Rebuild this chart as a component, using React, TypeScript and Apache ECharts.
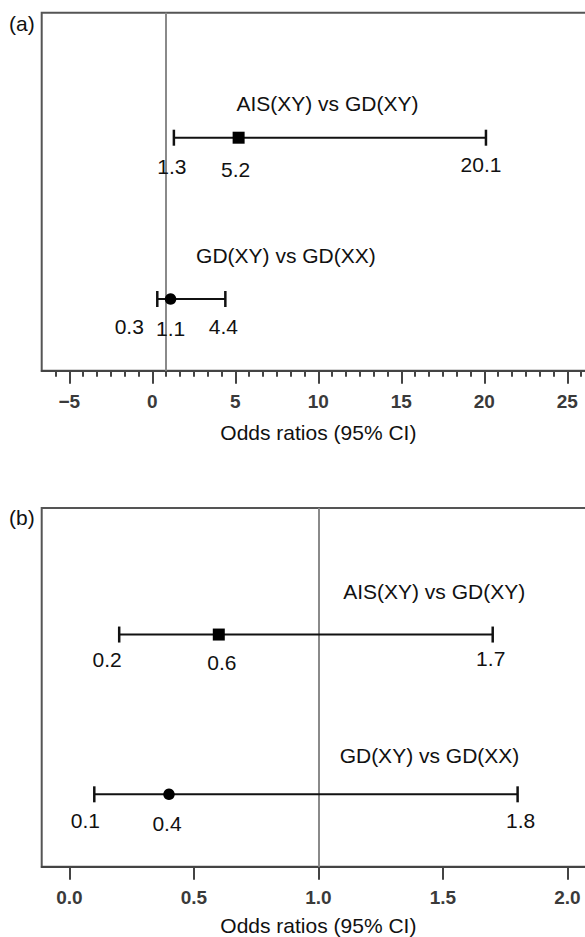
import React, { useEffect, useRef } from "react";
import * as echarts from "echarts";

// ---------- data ----------
const comparisons = ["AIS(XY) vs GD(XY)", "GD(XY) vs GD(XX)"];
const rowIndex = [1, 0]; // upper row, lower row
const markerSymbols = ["rect", "circle"];

// Panel (a)
const aOdds = [5.2, 1.1];
const aLow = [1.3, 0.3];
const aHigh = [20.1, 4.4];
const aTicks = [-5, 0, 5, 10, 15, 20, 25];
const aRefLine = 0.8;

// Panel (b)
const bOdds = [0.6, 0.4];
const bLow = [0.2, 0.1];
const bHigh = [1.7, 1.8];
const bTicks = [0, 0.5, 1.0, 1.5, 2.0];
const bRefLine = 1.0;

const axisTitle = "Odds ratios (95% CI)";

// ---------- layout / style ----------
const FONT = '"Liberation Sans", Arial, Helvetica, sans-serif';
const INK = "#111";

type PanelLayout = {
  tag: string;
  tagY: number;
  grid: { left: number; top: number; width: number; height: number };
  xMin: number;
  xMax: number;
  yMin: number;
  yMax: number;
  minorStep: number | null;
  nameGap: number;
  format: (v: number) => string;
  titleX: number[];
  titleDy: number[];
  lowOff: number[][];
  orOff: number[][];
  highOff: number[][];
};

const panelA: PanelLayout = {
  tag: "(a)",
  tagY: 23.3,
  grid: { left: 41.7, top: 12.7, width: 553.3, height: 358 },
  xMin: -6.663,
  xMax: 26.669,
  yMin: -0.4445,
  yMax: 1.775,
  minorStep: 5 / 6,
  nameGap: 51,
  format: (v) => (v < 0 ? "\u2212" + Math.abs(v) : String(v)),
  titleX: [10.55, 8.05],
  titleDy: [-34.4, -44],
  lowOff: [[-2, 29], [-28, 27]],
  orOff: [[-3, 32], [0, 29]],
  highOff: [[-5, 27], [-2, 27]],
};

const panelB: PanelLayout = {
  tag: "(b)",
  tagY: 517.5,
  grid: { left: 41.7, top: 508, width: 553.3, height: 358.7 },
  xMin: -0.1112,
  xMax: 2.1108,
  yMin: -0.453,
  yMax: 1.792,
  minorStep: null,
  nameGap: 48,
  format: (v) => v.toFixed(1),
  titleX: [1.465, 1.446],
  titleDy: [-42.7, -39.3],
  lowOff: [[-12, 25], [-9, 26]],
  orOff: [[3, 28], [-2, 29]],
  highOff: [[-2, 24], [3, 26]],
};

function buildPanel(
  idx: number,
  L: PanelLayout,
  odds: number[],
  low: number[],
  high: number[],
  ticks: number[],
  ref: number
) {
  const minorValues: number[] = [];
  if (L.minorStep) {
    const kStart = Math.ceil(L.xMin / L.minorStep + 1e-6);
    const kEnd = Math.floor(L.xMax / L.minorStep - 1e-6);
    for (let k = kStart; k <= kEnd; k++) minorValues.push(+(k * L.minorStep).toFixed(4));
  }

  const xAxes: any[] = [
    {
      type: "value",
      gridIndex: idx,
      position: "bottom",
      min: L.xMin,
      max: L.xMax,
      axisLine: { show: true, onZero: false, lineStyle: { color: "#444", width: 2 } },
      axisTick: {
        show: true,
        customValues: ticks,
        length: 13,
        lineStyle: { color: "#444", width: 2 },
      },
      axisLabel: {
        show: true,
        customValues: ticks,
        formatter: (v: number) => L.format(v),
        margin: 21,
        fontSize: 19,
        fontWeight: "bold",
        color: "#3a3a3a",
        fontFamily: FONT,
      },
      splitLine: { show: false },
      name: axisTitle,
      nameLocation: "middle",
      nameGap: L.nameGap,
      nameTextStyle: { fontSize: 21, color: INK, fontFamily: FONT },
    },
  ];
  if (minorValues.length) {
    xAxes.push({
      type: "value",
      gridIndex: idx,
      position: "bottom",
      min: L.xMin,
      max: L.xMax,
      axisLine: { show: false, onZero: false },
      axisTick: {
        show: true,
        customValues: minorValues,
        length: 6,
        lineStyle: { color: "#444", width: 2 },
      },
      axisLabel: { show: false },
      splitLine: { show: false },
    });
  }

  const yAxis = {
    type: "value",
    gridIndex: idx,
    min: L.yMin,
    max: L.yMax,
    show: false,
  };

  const xAxisIndexBase = idx === 0 ? 0 : 2;

  const barData = odds.map((o, i) => [low[i], high[i], rowIndex[i], o, i]);

  const textStyle = (t: string) => ({
    text: t,
    font: `21px ${FONT}`,
    fill: INK,
    align: "center",
    verticalAlign: "middle",
  });

  const renderItem = (_params: any, api: any) => {
    const lo = api.value(0);
    const hi = api.value(1);
    const y = api.value(2);
    const or = api.value(3);
    const i = api.value(4);
    const pL = api.coord([lo, y]);
    const pH = api.coord([hi, y]);
    const pO = api.coord([or, y]);
    const pT = api.coord([L.titleX[i], y]);
    const cap = 8;
    const lineStyle = { stroke: INK, lineWidth: 2 };
    const capStyle = { stroke: INK, lineWidth: 2.5 };
    const label = (v: number, p: number[], off: number[]) => ({
      type: "text",
      x: p[0] + off[0],
      y: p[1] + off[1],
      style: textStyle(v.toFixed(1)),
    });
    return {
      type: "group",
      children: [
        { type: "line", shape: { x1: pL[0], y1: pL[1], x2: pH[0], y2: pH[1] }, style: lineStyle },
        { type: "line", shape: { x1: pL[0], y1: pL[1] - cap, x2: pL[0], y2: pL[1] + cap }, style: capStyle },
        { type: "line", shape: { x1: pH[0], y1: pH[1] - cap, x2: pH[0], y2: pH[1] + cap }, style: capStyle },
        label(lo, pL, L.lowOff[i]),
        label(or, pO, L.orOff[i]),
        label(hi, pH, L.highOff[i]),
        {
          type: "text",
          x: pT[0],
          y: pT[1] + L.titleDy[i],
          style: textStyle(comparisons[i]),
        },
      ],
    };
  };

  const series = [
    {
      type: "custom",
      xAxisIndex: xAxisIndexBase,
      yAxisIndex: idx,
      renderItem,
      data: barData,
      silent: true,
      clip: false,
      z: 3,
    },
    {
      type: "scatter",
      xAxisIndex: xAxisIndexBase,
      yAxisIndex: idx,
      data: odds.map((o, i) => ({
        value: [o, rowIndex[i]],
        symbol: markerSymbols[i],
        symbolSize: markerSymbols[i] === "rect" ? 12 : 11.5,
      })),
      itemStyle: { color: "#000", opacity: 1 },
      silent: true,
      z: 4,
      markLine: {
        silent: true,
        symbol: ["none", "none"],
        label: { show: false },
        lineStyle: { color: "#8a8a8a", width: 2, type: "solid" },
        data: [{ xAxis: ref }],
        z: 1,
      },
    },
  ];

  return { xAxes, yAxis, series };
}

export default function App() {
  const ref = useRef<HTMLDivElement>(null);

  useEffect(() => {
    if (!ref.current) return;
    const chart = echarts.init(ref.current, undefined, { renderer: "svg" });
    const A = buildPanel(0, panelA, aOdds, aLow, aHigh, aTicks, aRefLine);
    const B = buildPanel(1, panelB, bOdds, bLow, bHigh, bTicks, bRefLine);

    const gridOf = (L: PanelLayout) => ({
      ...L.grid,
      show: true,
      borderColor: "#555",
      borderWidth: 2,
      backgroundColor: "transparent",
      containLabel: false,
      outerBoundsMode: "none",
    });

    chart.setOption({
      animation: false,
      backgroundColor: "#fff",
      textStyle: { fontFamily: FONT },
      grid: [gridOf(panelA), gridOf(panelB)],
      xAxis: [...A.xAxes, ...B.xAxes],
      yAxis: [A.yAxis, B.yAxis],
      series: [...A.series, ...B.series],
      graphic: [panelA, panelB].map((L) => ({
        type: "text",
        x: 9,
        y: L.tagY,
        style: {
          text: L.tag,
          font: `21px ${FONT}`,
          fill: INK,
          align: "left",
          verticalAlign: "middle",
          textAlign: "left",
          textVerticalAlign: "middle",
        },
      })),
    });
    return () => chart.dispose();
  }, []);

  return (
    <div
      ref={ref}
      style={{ position: "absolute", left: 0, top: 0, width: 585, height: 937 }}
    />
  );
}
